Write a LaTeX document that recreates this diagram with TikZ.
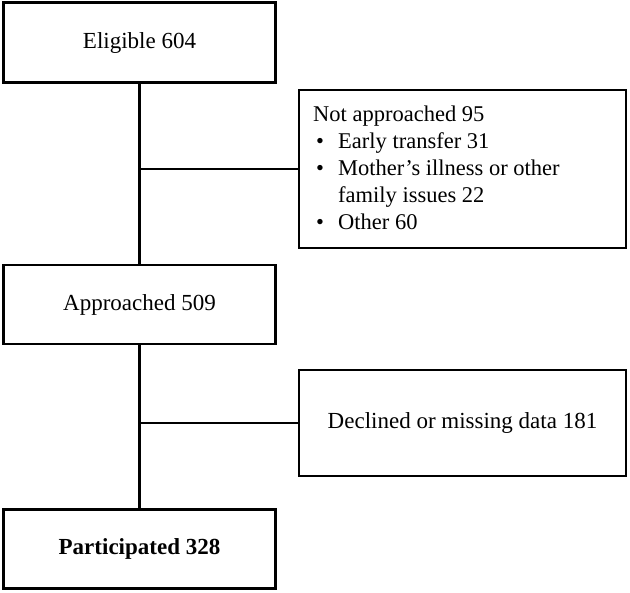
\documentclass[tikz,border=0pt]{standalone}
\usepackage{fontspec}
\setmainfont{Liberation Serif}
\begin{document}
\begin{tikzpicture}[x=1pt,y=-1pt,
  mainbox/.style={draw=black, line width=#1, fill=white, minimum width=272pt, inner sep=0pt, font=\fontsize{23}{27}\selectfont},
  sidebox/.style={draw=black, line width=2pt, fill=white, minimum width=327pt, inner sep=0pt},
  link/.style={draw=black, line width=2.5pt}]
\useasboundingbox[fill=white] (0,0) rectangle (630,593);
% main boxes
\node[mainbox=3pt, minimum height=80pt] (elig) at (139.5,43) {Eligible 604};
\node[mainbox=2.6pt, minimum height=79pt] (appr) at (139.5,304.5) {Approached 509};
\node[mainbox=3pt, minimum height=79pt] (part) at (139.5,549) {\bfseries Participated 328};
% side boxes
\node[sidebox, minimum height=158pt] (notap) at (462.5,169) {};
\node[sidebox, minimum height=106pt, font=\fontsize{23}{27}\selectfont] (decl) at (462.5,423) {Declined or missing data 181};
\node[anchor=base west, inner sep=0pt, font=\fontsize{22.5}{27}\selectfont] (notaptext) at (313,122) {%
\begin{tabular}[t]{@{}p{25pt}@{}l@{}}
\multicolumn{2}{@{}l@{}}{Not approached 95}\\
\hspace{3pt}\textbullet & Early transfer 31\\
\hspace{3pt}\textbullet & Mother’s illness or other\\
 & family issues 22\\
\hspace{3pt}\textbullet & Other 60
\end{tabular}};
% connectors
\draw[link] (elig.south) -- (appr.north);
\draw[link] (appr.south) -- (part.north);
\draw[link, line width=1.5pt] (139.5,169) -- (notap.west);
\draw[link, line width=1.5pt] (139.5,423) -- (decl.west);
\end{tikzpicture}
\end{document}
